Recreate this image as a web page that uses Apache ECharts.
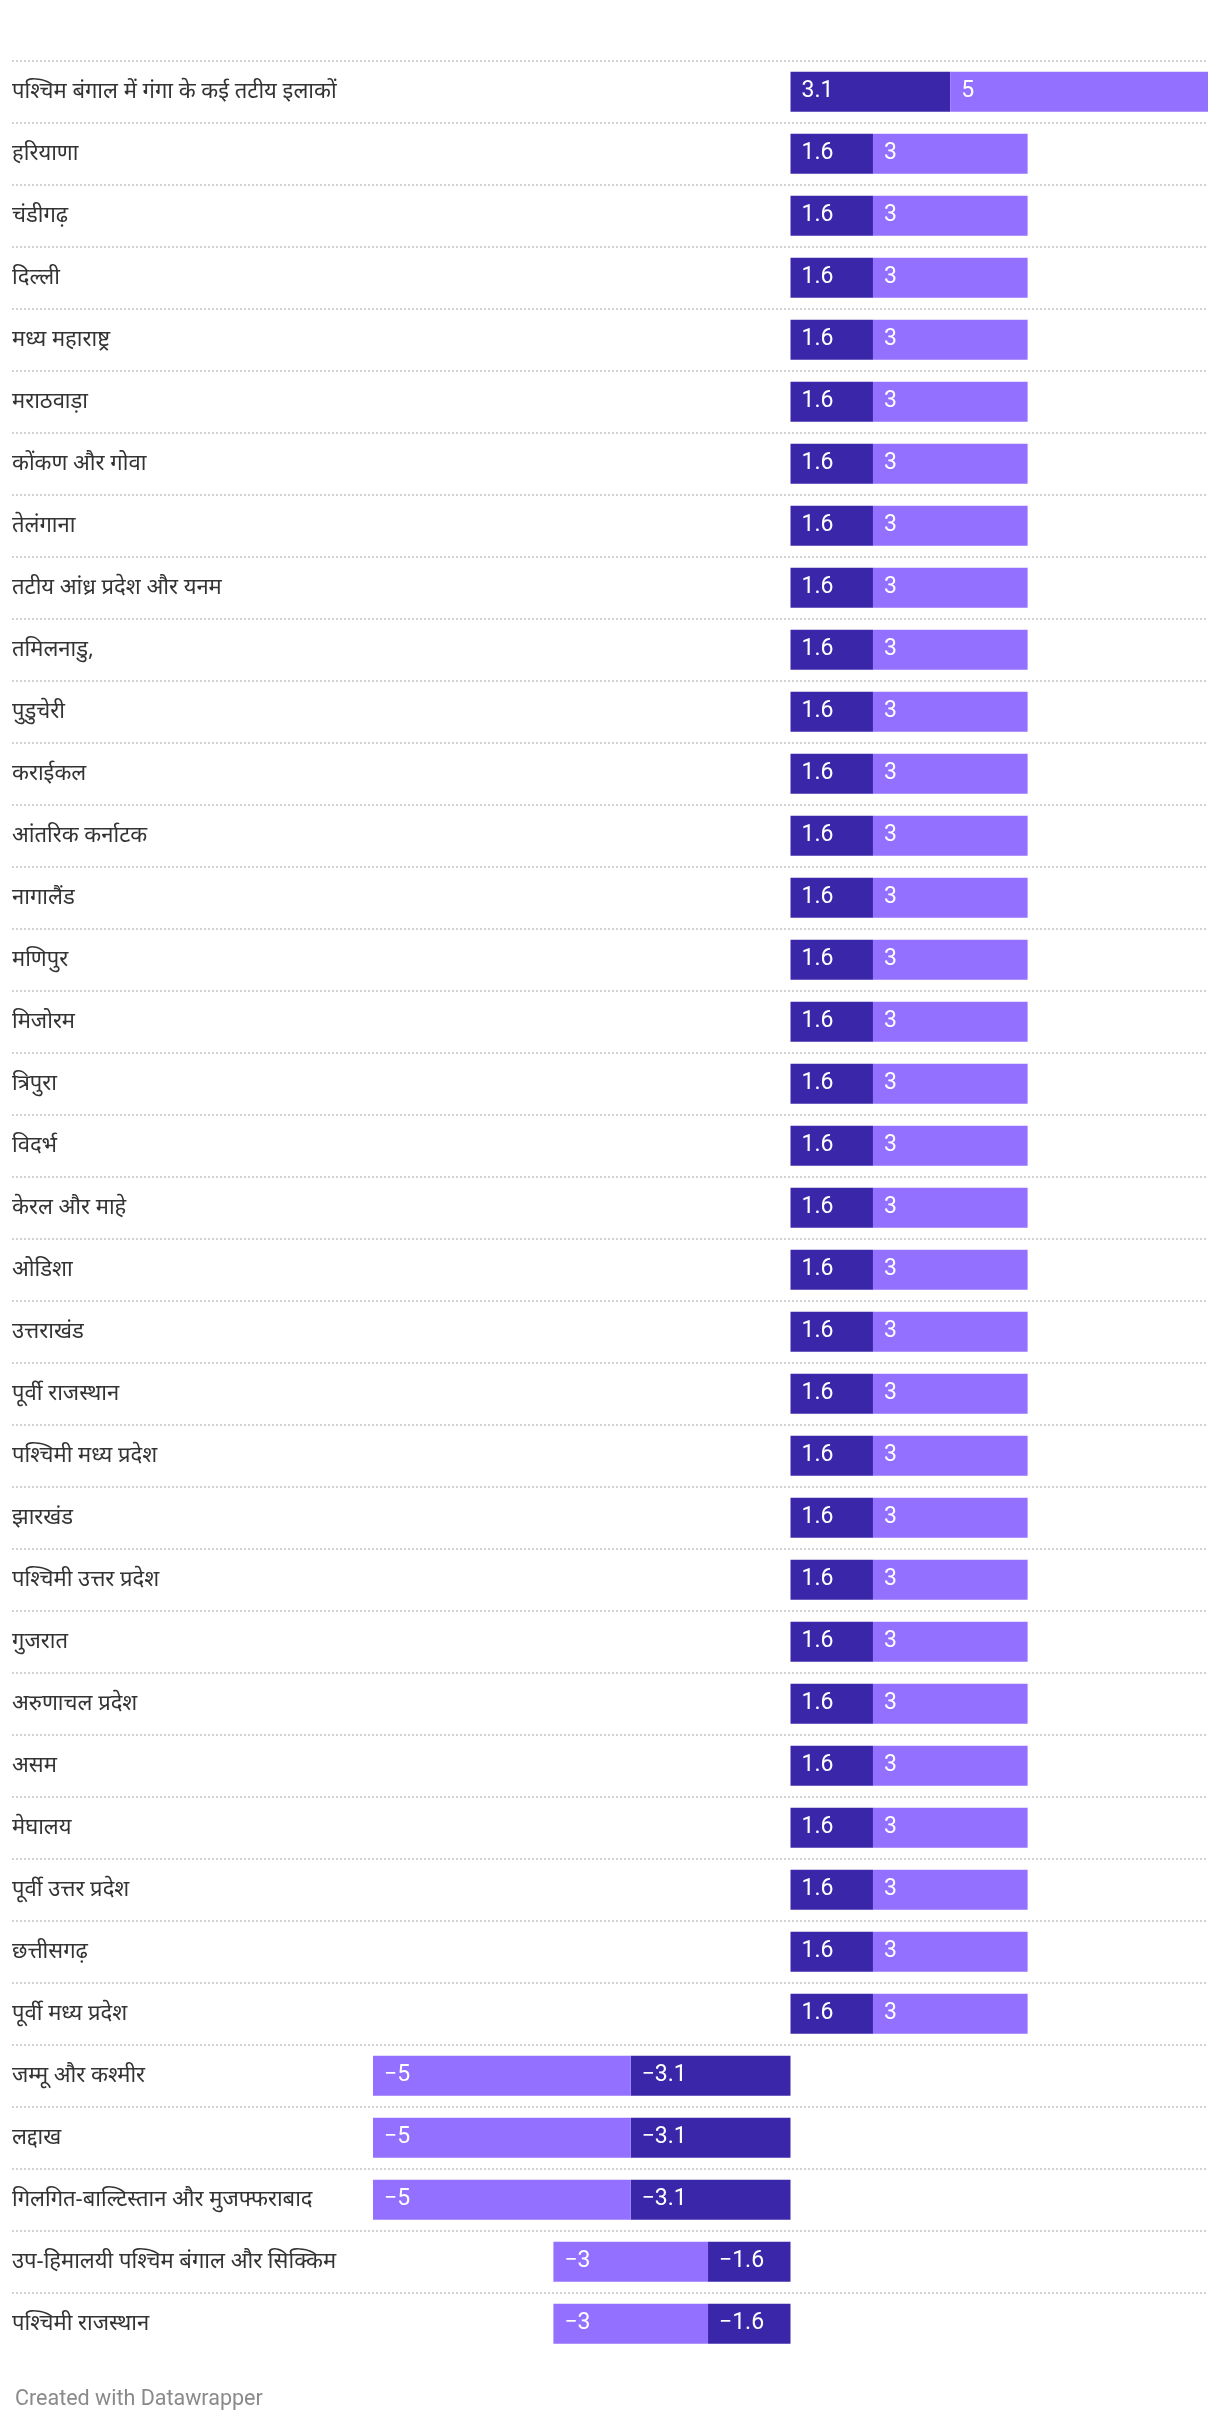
<!DOCTYPE html>
<html>
<head>
<meta charset="utf-8">
<style>
  html, body { margin: 0; padding: 0; background: #ffffff; }
  #chart { width: 1220px; height: 2420px; }
</style>
<script src="https://cdn.jsdelivr.net/npm/echarts@6/dist/echarts.min.js"></script>
</head>
<body>
<div id="chart"></div>
<script>
const categories = [
  'पश्चिम बंगाल में गंगा के कई तटीय इलाकों',
  'हरियाणा',
  'चंडीगढ़',
  'दिल्ली',
  'मध्य महाराष्ट्र',
  'मराठवाड़ा',
  'कोंकण और गोवा',
  'तेलंगाना',
  'तटीय आंध्र प्रदेश और यनम',
  'तमिलनाडु,',
  'पुडुचेरी',
  'कराईकल',
  'आंतरिक कर्नाटक',
  'नागालैंड',
  'मणिपुर',
  'मिजोरम',
  'त्रिपुरा',
  'विदर्भ',
  'केरल और माहे',
  'ओडिशा',
  'उत्तराखंड',
  'पूर्वी राजस्थान',
  'पश्चिमी मध्य प्रदेश',
  'झारखंड',
  'पश्चिमी उत्तर प्रदेश',
  'गुजरात',
  'अरुणाचल प्रदेश',
  'असम',
  'मेघालय',
  'पूर्वी उत्तर प्रदेश',
  'छत्तीसगढ़',
  'पूर्वी मध्य प्रदेश',
  'जम्मू और कश्मीर',
  'लद्दाख',
  'गिलगित-बाल्टिस्तान और मुजफ्फराबाद',
  'उप-हिमालयी पश्चिम बंगाल और सिक्किम',
  'पश्चिमी राजस्थान'
];

const innerValues = [
  3.1, 1.6, 1.6, 1.6, 1.6, 1.6, 1.6, 1.6, 1.6, 1.6,
  1.6, 1.6, 1.6, 1.6, 1.6, 1.6, 1.6, 1.6, 1.6, 1.6,
  1.6, 1.6, 1.6, 1.6, 1.6, 1.6, 1.6, 1.6, 1.6, 1.6,
  1.6, 1.6, -3.1, -3.1, -3.1, -1.6, -1.6
];

const outerValues = [
  5, 3, 3, 3, 3, 3, 3, 3, 3, 3,
  3, 3, 3, 3, 3, 3, 3, 3, 3, 3,
  3, 3, 3, 3, 3, 3, 3, 3, 3, 3,
  3, 3, -5, -5, -5, -3, -3
];

const footerText = 'Created with Datawrapper';

const DARK = '#3a26a9';
const LIGHT = '#9370ff';
const fmt = function (p) { return String(p.value).replace('-', '\u2212'); };

const chart = echarts.init(document.getElementById('chart'), null, { renderer: 'canvas' });

const rowTop = 60.7;
const rowH = 62;
const gridH = rowH * categories.length;

const valueLabel = {
  show: true,
  position: 'insideLeft',
  distance: 11,
  color: '#ffffff',
  fontFamily: 'Roboto',
  fontSize: 23,
  formatter: fmt
};

chart.setOption({
  animation: false,
  backgroundColor: '#ffffff',
  title: {
    text: footerText,
    left: 10,
    top: 2384,
    textStyle: { fontFamily: 'Roboto', fontSize: 21.5, fontWeight: 'normal', color: '#8a8a8a' }
  },
  grid: [
    { left: 12, right: 12, top: rowTop, height: gridH, containLabel: false },
    { left: 373, right: 12, top: rowTop, height: gridH, containLabel: false }
  ],
  xAxis: [
    { type: 'value', gridIndex: 0, min: 0, max: 1, show: false },
    { type: 'value', gridIndex: 1, min: -8.1, max: 8.1, show: false }
  ],
  yAxis: [
    {
      type: 'category', gridIndex: 0, data: categories, inverse: true,
      axisLine: { show: false }, axisTick: { show: false },
      axisLabel: {
        inside: true, margin: 0, align: 'left',
        fontFamily: '"Noto Sans", "Noto Sans Devanagari", sans-serif',
        fontSize: 22, color: '#333333'
      },
      splitLine: {
        show: true, showMinLine: true, showMaxLine: false,
        lineStyle: { color: '#d2d2d2', width: 2, type: [2, 2] }
      }
    },
    {
      type: 'category', gridIndex: 1, data: categories, inverse: true,
      show: false
    }
  ],
  series: [
    {
      name: 'inner', type: 'bar', xAxisIndex: 1, yAxisIndex: 1, stack: 'total',
      barWidth: 40, data: innerValues,
      itemStyle: { color: DARK },
      label: valueLabel
    },
    {
      name: 'outer', type: 'bar', xAxisIndex: 1, yAxisIndex: 1, stack: 'total',
      barWidth: 40, data: outerValues,
      itemStyle: { color: LIGHT },
      label: valueLabel
    }
  ]
});
</script>
</body>
</html>
